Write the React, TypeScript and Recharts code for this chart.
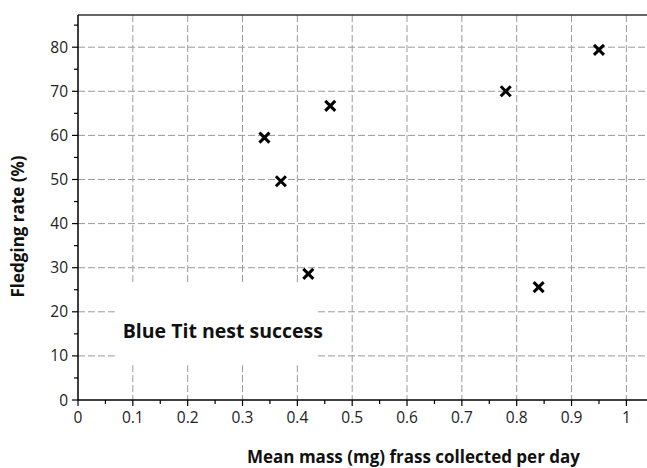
import {
  CartesianGrid,
  ReferenceArea,
  ReferenceLine,
  Scatter,
  ScatterChart,
  XAxis,
  YAxis,
} from 'recharts';

// frass mass (mg/day) vs fledging rate (%)
const massValues = [0.34, 0.37, 0.42, 0.46, 0.78, 0.84, 0.95];
const fledgeValues = [59.5, 49.6, 28.6, 66.7, 70.0, 25.6, 79.4];

const xMajor = [0, 0.1, 0.2, 0.3, 0.4, 0.5, 0.6, 0.7, 0.8, 0.9, 1];
const xAllTicks = [
  0, 0.05, 0.1, 0.15, 0.2, 0.25, 0.3, 0.35, 0.4, 0.45, 0.5, 0.55, 0.6, 0.65, 0.7, 0.75, 0.8,
  0.85, 0.9, 0.95, 1,
];
const yMajor = [0, 10, 20, 30, 40, 50, 60, 70, 80];
const yAllTicks = [0, 5, 10, 15, 20, 25, 30, 35, 40, 45, 50, 55, 60, 65, 70, 75, 80, 85];

const points = massValues.map((m, i) => ({ mass: m, fledge: fledgeValues[i] }));

const FONT = '"Open Sans", sans-serif';
const GRID = '#9a9a9a';

const isMajor = (v: number, list: number[]) => list.some((m) => Math.abs(m - v) < 1e-6);

const XTick = (props: any) => {
  const { x, y, payload } = props;
  const major = isMajor(payload.value, xMajor);
  return (
    <g>
      <line x1={x} y1={y} x2={x} y2={y + (major ? 6 : 4)} stroke="#000" strokeWidth={1.2} />
      {major && (
        <text x={x} y={y + 23} textAnchor="middle" fontSize={15.5} fill="#222" fontFamily={FONT}>
          {payload.value}
        </text>
      )}
    </g>
  );
};

const YTick = (props: any) => {
  const { x, y, payload } = props;
  const major = isMajor(payload.value, yMajor);
  return (
    <g>
      <line x1={x} y1={y} x2={x - (major ? 6 : 4)} y2={y} stroke="#000" strokeWidth={1.2} />
      {major && (
        <text x={x - 10} y={y + 5.5} textAnchor="end" fontSize={15.5} fill="#222" fontFamily={FONT}>
          {payload.value}
        </text>
      )}
    </g>
  );
};

const Cross = (props: any) => {
  const { cx, cy } = props;
  const s = 5;
  return (
    <g stroke="#000" strokeWidth={3}>
      <line x1={cx - s} y1={cy - s} x2={cx + s} y2={cy + s} />
      <line x1={cx - s} y1={cy + s} x2={cx + s} y2={cy - s} />
    </g>
  );
};

export default function App() {
  return (
    <div style={{ position: 'absolute', left: 0, top: 0, width: 647, height: 468, background: '#fff' }}>
      <ScatterChart width={647} height={468} margin={{ top: 15, right: 0, bottom: 0, left: 0 }}>
        <CartesianGrid
          stroke={GRID}
          strokeDasharray="7 3"
          verticalValues={xMajor.slice(1)}
          horizontalValues={yMajor.slice(1)}
        />
        <XAxis
          type="number"
          dataKey="mass"
          domain={[0, 1.0376]}
          ticks={xAllTicks}
          interval={0}
          allowDataOverflow
          tickLine={false}
          tickSize={0}
          tickMargin={0}
          height={68}
          axisLine={{ stroke: '#000', strokeWidth: 1.5 }}
          tick={<XTick />}
          label={{
            content: (p: any) => {
              const vb = p.viewBox;
              return (
                <text
                  x={vb.x + vb.width / 2 + 51}
                  y={vb.y + 63}
                  textAnchor="middle"
                  fontSize={17}
                  fontWeight="bold"
                  fill="#111"
                  fontFamily={FONT}
                >
                  Mean mass (mg) frass collected per day
                </text>
              );
            },
          }}
        />
        <YAxis
          type="number"
          dataKey="fledge"
          domain={[0, 87.3]}
          ticks={yAllTicks}
          interval={0}
          allowDataOverflow
          tickLine={false}
          tickSize={0}
          tickMargin={0}
          width={78}
          axisLine={{ stroke: '#000', strokeWidth: 1.5 }}
          tick={<YTick />}
          label={{
            content: (p: any) => {
              const vb = p.viewBox;
              const cy = vb.y + vb.height / 2 + 19;
              return (
                <text
                  x={24}
                  y={cy}
                  transform={`rotate(-90 24 ${cy})`}
                  textAnchor="middle"
                  fontSize={17}
                  fontWeight="bold"
                  fill="#111"
                  fontFamily={FONT}
                >
                  Fledging rate (%)
                </text>
              );
            },
          }}
        />
        <ReferenceLine y={87.3} stroke="#333" strokeWidth={1.5} ifOverflow="visible" />
        <ReferenceArea
          x1={0.067}
          x2={0.432}
          y1={7.9}
          y2={26.1}
          fill="#fff"
          fillOpacity={1}
          stroke="none"
          label={{
            value: 'Blue Tit nest success',
            position: 'center',
            dx: 8,
            dy: 6,
            fontSize: 19.5,
            fontWeight: 'bold',
            fill: '#111',
            fontFamily: FONT,
          }}
        />
        <Scatter data={points} shape={<Cross />} isAnimationActive={false} />
      </ScatterChart>
    </div>
  );
}
